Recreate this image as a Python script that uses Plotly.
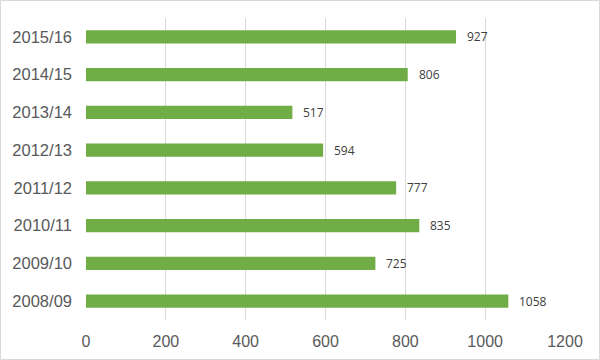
import plotly.graph_objects as go

categories = ["2008/09", "2009/10", "2010/11", "2011/12", "2012/13", "2013/14", "2014/15", "2015/16"]
values = [1058, 725, 835, 777, 594, 517, 806, 927]
x_ticks = [0, 200, 400, 600, 800, 1000, 1200]

W, H = 600, 360
ml, mr, mt, mb = 86, 35, 18, 40
pw, ph = W - ml - mr, H - mt - mb

fig = go.Figure()
fig.add_trace(go.Bar(
    y=categories, x=values, orientation="h",
    marker=dict(color="#70AD47", line=dict(width=0)),
    width=0.35, hoverinfo="x+y",
))

for c, v in zip(categories, values):
    fig.add_annotation(x=v, y=c, text=str(v), showarrow=False, xanchor="left",
                       xshift=9, font=dict(family="Open Sans", size=12, color="#404040"))

fig.update_layout(
    width=W, height=H,
    margin=dict(l=ml, r=mr, t=mt, b=mb, autoexpand=False),
    paper_bgcolor="white", plot_bgcolor="white",
    showlegend=False,
    xaxis=dict(range=[0, 1200], tickvals=x_ticks, showgrid=True, gridcolor="#D9D9D9",
               gridwidth=1, zeroline=False, showline=False, ticks="",
               automargin=False, ticklabelstandoff=10,
               tickfont=dict(family="Liberation Sans", size=16, color="#595959"),
               fixedrange=True),
    yaxis=dict(categoryorder="array", categoryarray=categories, showgrid=False,
               zeroline=False, showline=False, ticks="", ticklen=0,
               automargin=False, ticklabelstandoff=13,
               tickfont=dict(family="Liberation Sans", size=16.5, color="#595959"),
               range=[-0.5, len(categories) - 0.5], fixedrange=True),
    shapes=[dict(type="rect", xref="paper", yref="paper",
                 x0=-(ml - 0.5) / pw, x1=1 + (mr - 0.5) / pw,
                 y0=-(mb - 0.5) / ph, y1=1 + (mt - 0.5) / ph,
                 line=dict(color="#D9D9D9", width=1), layer="below")],
)

fig.write_html("out.html", config={"displayModeBar": False},
               post_script="document.body.style.margin='0';document.body.style.padding='0';")
